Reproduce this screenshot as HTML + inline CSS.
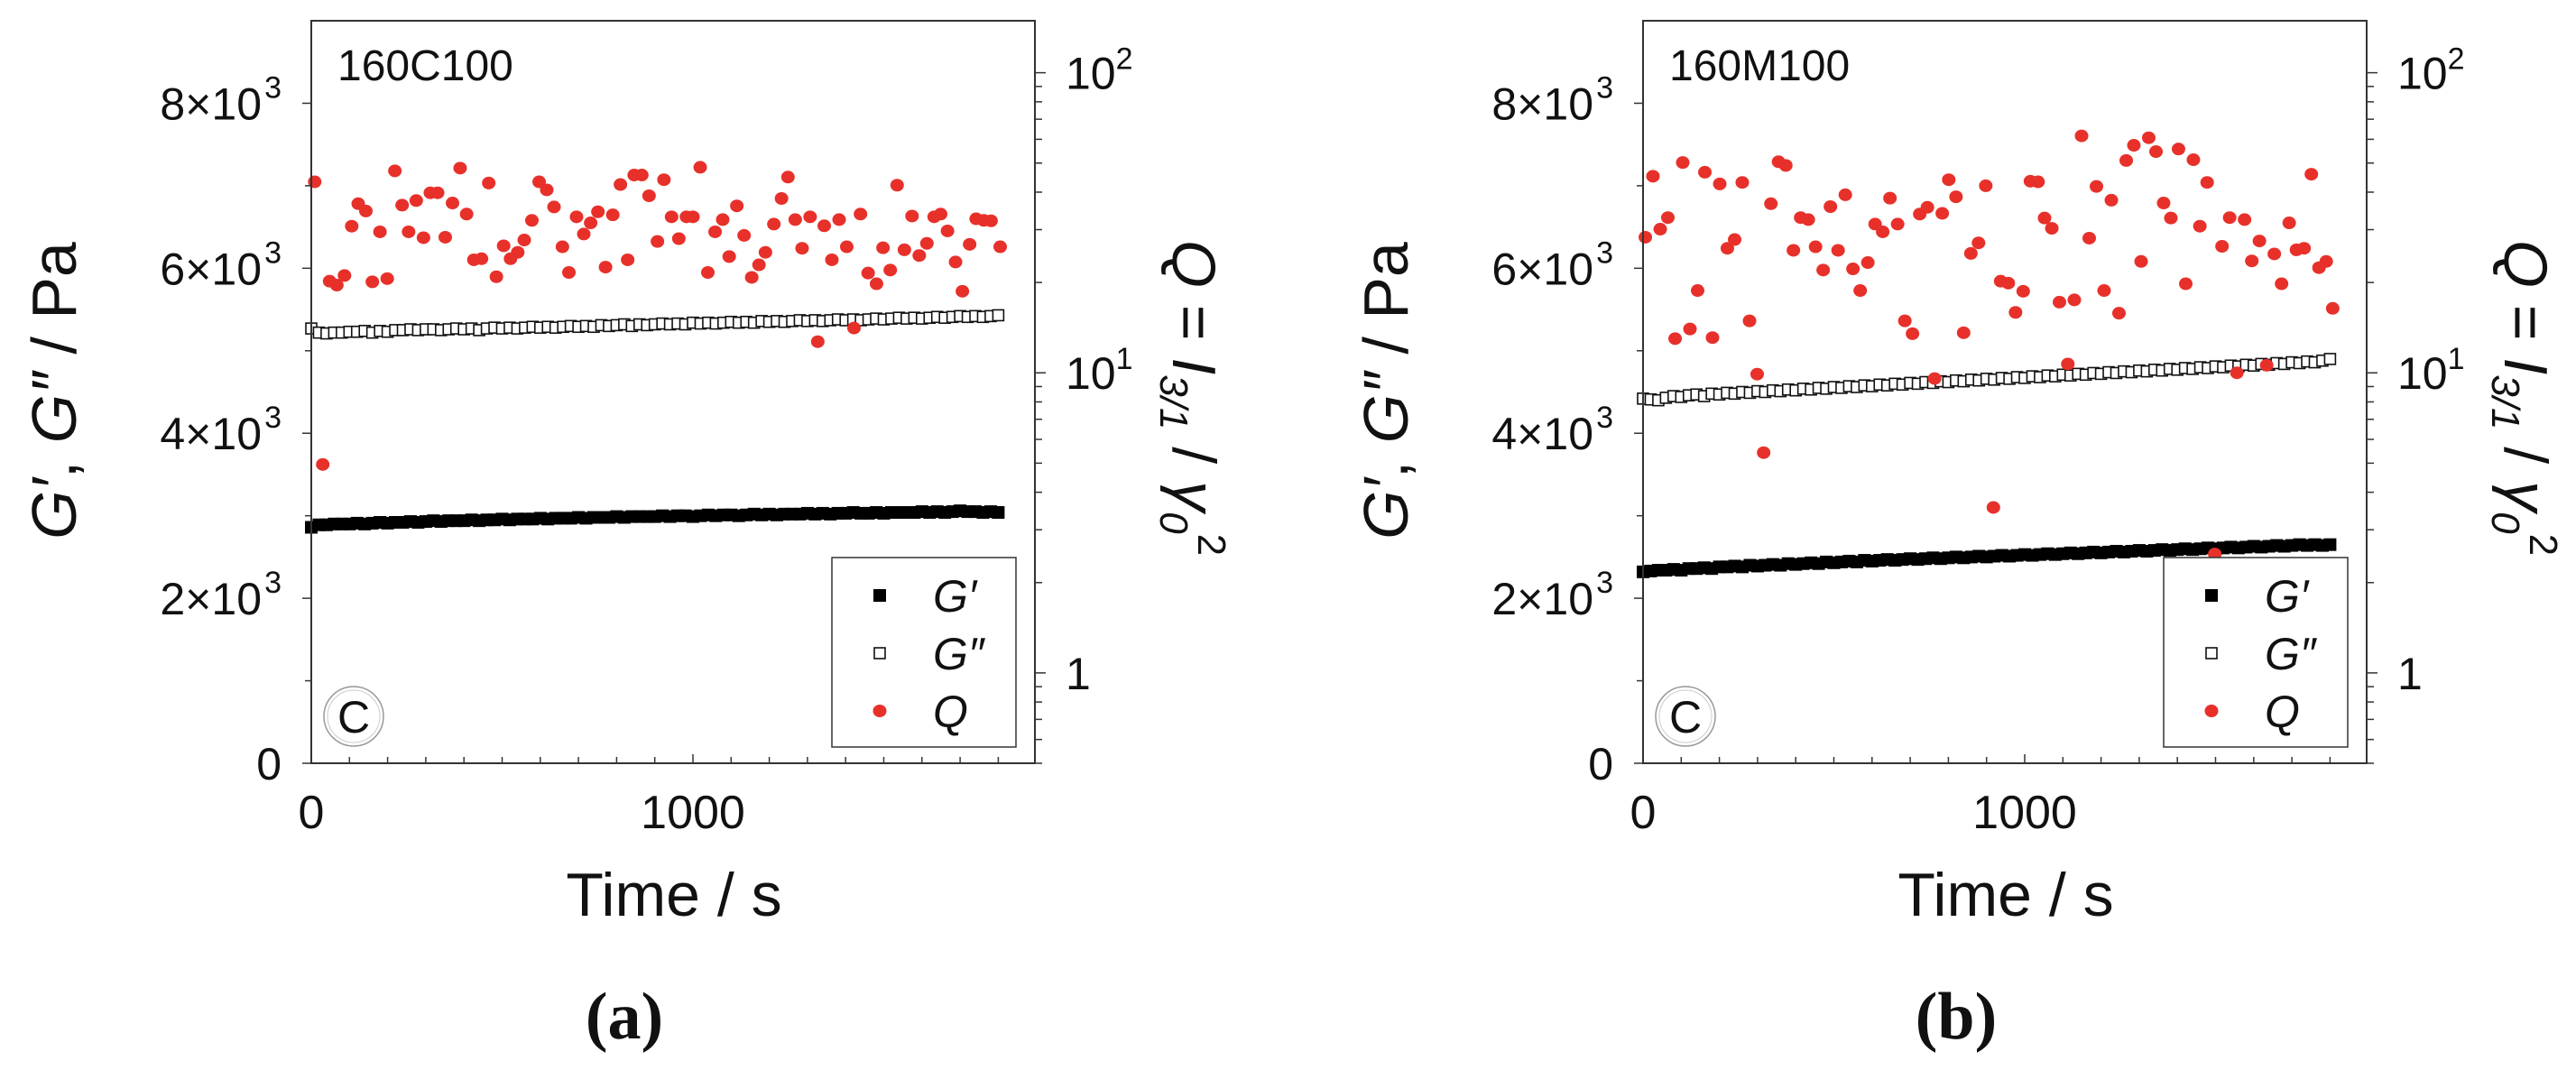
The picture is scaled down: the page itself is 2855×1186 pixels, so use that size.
<!DOCTYPE html>
<html><head><meta charset="utf-8">
<style>
html,body{margin:0;padding:0;background:#fff;}
svg{display:block;font-family:"Liberation Sans",sans-serif;}
</style></head>
<body>
<svg id="fig" width="2855" height="1186" viewBox="0 0 2855 1186" xmlns="http://www.w3.org/2000/svg"></svg>
<script>
const tG = [0,20,40,60,80,100,120,140,160,180,200,220,240,260,280,300,320,340,360,380,400,420,440,460,480,500,520,540,560,580,600,620,640,660,680,700,720,740,760,780,800,820,840,860,880,900,920,940,960,980,1000,1020,1040,1060,1080,1100,1120,1140,1160,1180,1200,1220,1240,1260,1280,1300,1320,1340,1360,1380,1400,1420,1440,1460,1480,1500,1520,1540,1560,1580,1600,1620,1640,1660,1680,1700,1720,1740,1760,1780,1800];
const gpA = [2860,2890,2890,2900,2900,2900,2910,2900,2910,2920,2910,2920,2920,2930,2920,2930,2940,2930,2940,2940,2940,2950,2940,2950,2950,2960,2950,2960,2960,2960,2970,2960,2970,2970,2970,2980,2970,2980,2980,2980,2990,2980,2990,2990,2990,2990,3000,2990,3000,3000,2990,3000,3010,3000,3010,3010,3000,3010,3020,3010,3020,3010,3020,3020,3020,3030,3020,3030,3020,3030,3030,3040,3030,3030,3040,3030,3040,3040,3040,3040,3050,3040,3050,3040,3050,3060,3050,3050,3040,3050,3040];
const gppA = [5270,5220,5210,5220,5220,5230,5230,5240,5220,5240,5230,5250,5250,5260,5250,5260,5260,5250,5260,5270,5260,5270,5250,5270,5280,5270,5280,5270,5280,5290,5280,5290,5280,5290,5300,5290,5300,5290,5310,5300,5310,5320,5300,5320,5310,5320,5330,5320,5330,5320,5340,5330,5340,5330,5340,5350,5340,5350,5340,5360,5350,5360,5350,5360,5370,5360,5370,5360,5370,5380,5370,5380,5370,5380,5390,5380,5390,5400,5390,5400,5390,5400,5410,5400,5410,5420,5410,5420,5410,5420,5430];
const tQA = [9,30,48,67,87,106,123,143,160,180,199,219,238,255,275,294,312,331,351,370,390,407,426,446,465,485,504,522,541,558,578,597,617,636,658,675,695,714,732,751,771,790,810,829,846,866,885,907,924,944,963,983,1000,1019,1039,1058,1078,1095,1115,1134,1154,1173,1190,1212,1232,1249,1268,1286,1307,1327,1344,1364,1383,1403,1422,1439,1459,1481,1498,1517,1535,1554,1574,1593,1613,1632,1649,1667,1688,1706,1725,1742,1762,1781,1805];
const qA = [43.3,4.95,20.2,19.6,21.1,30.8,36.6,34.6,20.1,29.5,20.6,47.1,36.2,29.5,37.5,28.2,39.8,39.8,28.3,36.8,48.1,33.8,23.8,24.0,42.9,20.9,26.5,24.0,25.2,27.7,32.2,43.3,40.7,35.7,26.3,21.6,33.1,29.0,31.6,34.4,22.5,33.6,42.4,23.8,45.6,45.6,38.9,27.4,44.0,33.1,28.0,33.1,33.1,48.4,21.6,29.5,32.4,24.4,36.0,28.7,20.8,22.9,25.2,31.3,38.1,44.9,32.4,26.0,33.1,12.7,30.9,23.8,32.4,26.3,14.1,33.8,21.5,19.8,26.1,22.0,42.2,25.7,33.3,24.6,27.0,33.1,33.8,29.7,23.4,18.7,26.8,32.6,32.2,32.1,26.3];
const gpB = [2320,2330,2340,2340,2350,2340,2360,2360,2370,2360,2380,2380,2390,2380,2400,2390,2400,2410,2400,2420,2410,2420,2430,2420,2440,2430,2440,2450,2440,2460,2450,2460,2470,2460,2470,2480,2470,2480,2490,2480,2490,2500,2490,2500,2510,2500,2510,2520,2510,2520,2530,2520,2530,2540,2530,2540,2550,2540,2550,2560,2550,2560,2570,2560,2570,2580,2570,2580,2590,2580,2590,2600,2590,2600,2610,2600,2610,2620,2610,2620,2630,2620,2630,2640,2630,2640,2650,2640,2650,2640,2650];
const gppB = [4420,4410,4400,4430,4450,4440,4460,4470,4450,4480,4470,4490,4480,4500,4490,4510,4500,4520,4510,4530,4520,4540,4530,4550,4540,4560,4550,4570,4560,4580,4570,4590,4580,4600,4590,4610,4600,4620,4610,4630,4620,4640,4630,4650,4640,4660,4650,4670,4660,4680,4670,4690,4680,4700,4690,4710,4700,4720,4710,4730,4720,4740,4730,4750,4740,4760,4750,4770,4760,4780,4770,4790,4780,4800,4790,4810,4800,4820,4810,4830,4820,4840,4830,4850,4840,4860,4850,4870,4860,4880,4900];
const tQB = [6,26,45,65,84,104,123,143,162,182,201,221,240,260,279,299,316,335,355,374,394,413,433,452,472,491,511,530,550,569,589,608,628,647,667,686,706,725,745,764,784,801,820,840,859,879,898,918,937,957,976,996,1015,1035,1052,1071,1091,1113,1130,1149,1169,1188,1208,1227,1247,1266,1286,1305,1325,1344,1364,1383,1403,1422,1442,1459,1478,1498,1517,1537,1556,1576,1595,1615,1634,1654,1673,1693,1712,1732,1751,1771,1790,1807];
const qB = [28.3,45.2,30.1,32.9,13.0,50.2,14.0,18.8,46.6,13.1,42.6,26.0,27.8,43.1,14.9,9.9,5.42,36.6,50.5,49.1,25.6,32.9,32.4,26.3,22.0,35.8,25.6,39.2,22.2,18.8,23.3,31.3,29.5,38.2,31.3,14.9,13.5,33.8,35.6,9.57,34.0,44.0,38.6,13.6,25.0,27.1,42.0,3.56,20.2,19.9,15.9,18.7,43.5,43.3,32.8,30.3,17.2,10.7,17.5,61.6,28.1,41.8,18.8,37.6,15.8,51.0,57.3,23.5,60.7,54.6,36.8,32.8,55.7,19.8,51.3,30.8,43.1,2.49,26.4,32.9,10.0,32.4,23.6,27.5,10.6,24.9,19.8,31.6,25.7,26.0,45.9,22.4,23.5,16.4];
const yTicks = [0,2000,4000,6000,8000];
const yTickLabels = ["0","2×10","4×10","6×10","8×10"];
const xTicks = [0,1000];
const xTickLabels = ["0","1000"];
const qTicks = [1,10,100];

const NS = "http://www.w3.org/2000/svg";
const svg = document.getElementById('fig');
function mk(tag, attrs, parent){
  const e = document.createElementNS(NS, tag);
  for (const k in attrs) e.setAttribute(k, attrs[k]);
  (parent||svg).appendChild(e);
  return e;
}

function panel(ox, label, letter, gp, gpp, tq, q){
  const g = mk('g', {});
  
  
  const L = 345 + ox, R = 1147 + ox, T = 23, B = 846;
  const xs = t => L + t * 0.423;
  const ys = v => B - v * (B - T) / 9000;
  const lq = v => { const lmin = Math.log10(0.5), lmax = Math.log10(149); return B - (Math.log10(v) - lmin) / (lmax - lmin) * (B - T); };

  const gs2 = mk('g', {fill:'#fff', stroke:'#111', 'stroke-width':1.6}, g);
  
  
  const n2 = Math.min(tG.length, gpp.length);
  for (let i = 0; i < n2; i++){
    const r = mk('rect', {x: xs(tG[i]) - 6, y: ys(gpp[i]) - 6, width: 12, height: 12}, gs2);
    
    
  }
  const gs1 = mk('g', {fill:'#000'}, g);
  
  
  const n1 = Math.min(tG.length, gp.length);
  for (let i = 0; i < n1; i++){
    const r = mk('rect', {x: xs(tG[i]) - 7, y: ys(gp[i]) - 7, width: 14, height: 14}, gs1);
    
    
  }
  const gq = mk('g', {fill:'#e8302a'}, g);
  
  
  const nq = Math.min(tq.length, q.length);
  for (let i = 0; i < nq; i++){
    const c = mk('ellipse', {cx: xs(tq[i]), cy: lq(q[i]), rx: 7.5, ry: 7}, gq);
    
    
  }
  const fr = mk('rect', {x:L, y:T, width:R-L, height:B-T, fill:'none', stroke:'#333', 'stroke-width':2}, g);
  
  
  for (let v = 0; v <= 8000; v += 1000){
    const len = (v % 2000 === 0) ? 10 : 7;
    mk('line', {x1:L-len, x2:L, y1:ys(v), y2:ys(v), stroke:'#333', 'stroke-width':1.5}, g);
  }
  yTicks.forEach((v, i) => {
    const t = mk('text', {x: L - 33 - (i === 0 ? 0 : 22), y: ys(v) + 18, 'font-size': 50, 'text-anchor': 'end', fill:'#111'}, g);
    
    
    t.textContent = yTickLabels[i];
    if (i > 0){
      const s = mk('text', {x: L - 33, y: ys(v) - 6, 'font-size': 34, 'text-anchor':'end', fill:'#111'}, g);
      s.textContent = '3';
    }
  });
  for (let t = 0; t <= 1800; t += 100){
    const len = (t % 1000 === 0) ? 10 : 7;
    mk('line', {x1:xs(t), x2:xs(t), y1:B, y2:B-len, stroke:'#333', 'stroke-width':1.5}, g);
  }
  xTicks.forEach((v, i) => {
    const t = mk('text', {x: xs(v), y: 918, 'font-size': 52, 'text-anchor':'middle', fill:'#111'}, g);
    
    
    t.textContent = xTickLabels[i];
  });
  for (let d = -1; d <= 2; d++){
    for (let m = 1; m <= 9; m++){
      const v = m * Math.pow(10, d);
      if (v < 0.5 || v > 149) continue;
      const len = m === 1 ? 12 : 8;
      mk('line', {x1:R, x2:R+len, y1:lq(v), y2:lq(v), stroke:'#333', 'stroke-width':1.5}, g);
    }
  }
  qTicks.forEach(v => {
    const t = mk('text', {x: R + 34, y: lq(v) + 18, 'font-size': 50, fill:'#111'}, g);
    
    
    if (v === 1){ t.textContent = '1'; }
    else {
      t.textContent = '10';
      const s = mk('tspan', {dy: -22, 'font-size': 34}, t);
      s.textContent = v === 10 ? '1' : '2';
    }
  });
  const xt = mk('text', {x: 747 + ox, y: 1015, 'font-size': 68, 'text-anchor':'middle', fill:'#111'}, g);
  
  
  xt.textContent = 'Time / s';
  const yt = mk('text', {transform: `translate(${84 + ox},433) rotate(-90)`, 'font-size': 70, 'text-anchor':'middle', fill:'#111'}, g);
  
  
  yt.innerHTML = '<tspan font-style="italic">G′</tspan>, <tspan font-style="italic">G″</tspan> / Pa';
  const rt = mk('text', {transform: `translate(${1300 + ox},441) rotate(90)`, 'font-size': 68, 'text-anchor':'middle', fill:'#111'}, g);
  
  
  rt.innerHTML = '<tspan font-style="italic">Q</tspan> = <tspan font-style="italic">I</tspan><tspan font-size="44" dy="14" font-style="italic">3/1</tspan><tspan dy="-14"> / </tspan><tspan font-style="italic">γ</tspan><tspan font-size="44" dy="14" font-style="italic">0</tspan><tspan font-size="44" dy="-42">2</tspan>';
  const sl = mk('text', {x: 374 + ox, y: 89, 'font-size': 48, fill:'#111'}, g);
  
  
  sl.textContent = label;
  const cc = mk('ellipse', {cx: 392 + ox, cy: 794, rx: 33, ry: 33, fill:'none', stroke:'#999', 'stroke-width':1.5}, g);
  
  
  mk('ellipse', {cx: 392 + ox, cy: 794, rx: 29, ry: 29, fill:'none', stroke:'#ccc', 'stroke-width':1}, g);
  const ct = mk('text', {x: 392 + ox, y: 812, 'font-size': 50, 'text-anchor':'middle', fill:'#111'}, g);
  ct.textContent = 'C';
  const lg = mk('g', {}, g);
  
  
  mk('rect', {x: 922 + ox, y: 618, width: 204, height: 210, fill:'#fff', stroke:'#333', 'stroke-width':1.5}, lg);
  const entries = [['G′','fill'],['G″','open'],['Q','dot']];
  entries.forEach((e, i) => {
    const yy = 660 + i * 64;
    const mx = 975 + ox;
    if (e[1] === 'fill') mk('rect', {x: mx-7, y: yy-7, width: 14, height: 14, fill:'#000'}, lg);
    else if (e[1] === 'open') mk('rect', {x: mx-6, y: yy-6, width: 12, height: 12, fill:'#fff', stroke:'#111', 'stroke-width':1.6}, lg);
    else mk('ellipse', {cx: mx, cy: yy, rx: 7.5, ry: 7, fill:'#e8302a'}, lg);
    const t = mk('text', {x: 1034 + ox, y: yy + 18, 'font-size': 50, 'font-style':'italic', fill:'#111'}, lg);
    
    
    t.textContent = e[0];
  });
  const pl = mk('text', {x: 692 + ox, y: 1151, 'font-size': 74, 'font-weight':'bold', 'text-anchor':'middle', 'font-family':'"Liberation Serif", serif', fill:'#111'}, g);
  
  
  pl.textContent = '(' + letter + ')';
}
panel(0, '160C100', 'a', gpA, gppA, tQA, qA);
panel(1476, '160M100', 'b', gpB, gppB, tQB, qB);
</script>
</body></html>
